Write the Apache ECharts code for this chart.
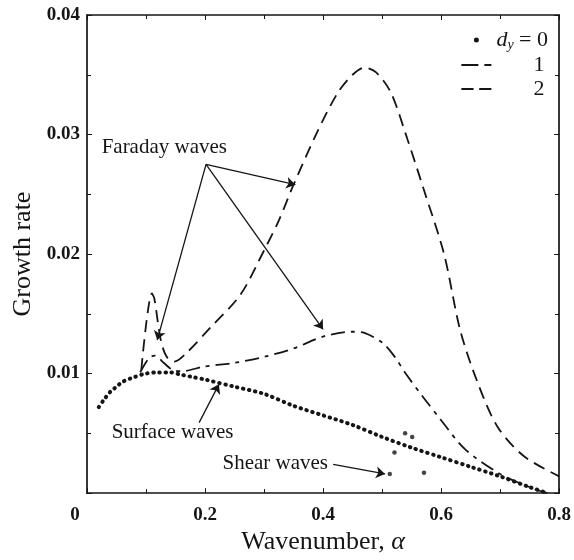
<!DOCTYPE html>
<html>
<head>
<meta charset="utf-8">
<script src="https://cdn.jsdelivr.net/npm/echarts@6/dist/echarts.min.js"></script>
<style>
html, body { margin: 0; padding: 0; background: #fff; }
#chart { width: 574px; height: 560px; }
</style>
</head>
<body>
<div id="chart"></div>
<script>
// d_y = 0, surface waves (dotted)
var alpha0 = [0.02, 0.03, 0.04, 0.05, 0.06, 0.08, 0.10, 0.12, 0.14, 0.16, 0.18, 0.20, 0.25, 0.30, 0.35, 0.40, 0.45, 0.50, 0.55, 0.60, 0.65, 0.70, 0.75, 0.78];
var rate0 = [0.0072, 0.0079, 0.0085, 0.0089, 0.0093, 0.0097, 0.0100, 0.0101, 0.0101, 0.0099, 0.0097, 0.0095, 0.0089, 0.0083, 0.0073, 0.0065, 0.0057, 0.0047, 0.0038, 0.0030, 0.0022, 0.0014, 0.0005, 0.0000];
// d_y = 0, shear waves (isolated points)
var alphaShear = [0.513, 0.521, 0.539, 0.551, 0.571];
var rateShear = [0.0016, 0.0034, 0.0050, 0.0047, 0.0017];
// d_y = 1 (dash-dot)
var alpha1 = [0.09, 0.105, 0.115, 0.13, 0.145, 0.16, 0.20, 0.25, 0.30, 0.35, 0.40, 0.45, 0.47, 0.50, 0.52, 0.54, 0.57, 0.60, 0.64, 0.70, 0.76, 0.78];
var rate1 = [0.0101, 0.0113, 0.0115, 0.0109, 0.0103, 0.0102, 0.0106, 0.0109, 0.0114, 0.0121, 0.0131, 0.0135, 0.0134, 0.0126, 0.0115, 0.0100, 0.0080, 0.0061, 0.0037, 0.0016, 0.0003, 0.0000];
// d_y = 2 (dashed)
var alpha2 = [0.092, 0.110, 0.114, 0.125, 0.135, 0.148, 0.168, 0.21, 0.26, 0.30, 0.325, 0.35, 0.39, 0.425, 0.45, 0.47, 0.49, 0.515, 0.543, 0.57, 0.605, 0.632, 0.66, 0.695, 0.74, 0.80];
var rate2 = [0.0103, 0.0167, 0.0163, 0.0128, 0.0114, 0.0110, 0.0117, 0.0139, 0.0166, 0.0203, 0.0228, 0.0258, 0.0302, 0.0335, 0.0350, 0.0356, 0.0352, 0.0335, 0.0296, 0.0255, 0.0200, 0.0137, 0.0095, 0.0056, 0.0031, 0.0014];

var yTicks = [0.01, 0.02, 0.03, 0.04];

function pairs(xs, ys) {
  var out = [];
  for (var i = 0; i < xs.length; i++) out.push([xs[i], ys[i]]);
  return out;
}

var ink = '#151515';
var serif = 'Liberation Serif';

var chart = echarts.init(document.getElementById('chart'));

// shared look of the four frame sides: ticks point inward
function frame(extra) {
  return Object.assign({
    axisLine: { show: true, onZero: false, lineStyle: { color: ink, width: 1.7 } },
    axisTick: { show: true, inside: true, length: 5, lineStyle: { color: ink, width: 1 } },
    minorTick: { show: true, splitNumber: 2, length: 4, lineStyle: { color: ink, width: 1 } },
    splitLine: { show: false },
    minorSplitLine: { show: false }
  }, extra);
}

chart.setOption({
  animation: false,
  backgroundColor: '#ffffff',
  grid: { left: 87, right: 11, top: 15, bottom: 62 },
  legend: {
    orient: 'vertical',
    right: 21,
    top: 24,
    itemWidth: 30,
    itemHeight: 5,
    itemGap: 2,
    data: [
      { name: 'dy0', icon: 'circle' },
      { name: 'dy1', icon: 'path://M0,0h17v2h-17zM23,0h7v2h-7z' },
      { name: 'dy2', icon: 'path://M0,0h13v2h-13zM19,0h13v2h-13z' }
    ],
    formatter: function (name) {
      if (name === 'dy0') return '{i|d}{s|y}{t| = 0}';
      return '{n|' + name.slice(2) + '}';
    },
    textStyle: {
      color: ink,
      fontFamily: serif,
      fontSize: 22,
      lineHeight: 22,
      rich: {
        i: { fontFamily: serif, fontSize: 22, fontStyle: 'italic', color: ink },
        s: { fontFamily: serif, fontSize: 14, fontStyle: 'italic', color: ink, padding: [10, 0, 0, 0] },
        t: { fontFamily: serif, fontSize: 22, color: ink },
        n: { fontFamily: serif, fontSize: 22, color: ink, width: 48, align: 'right' }
      }
    }
  },
  xAxis: [
    frame({
      type: 'value', min: 0, max: 0.8, interval: 0.2,
      name: 'Wavenumber, {a|α}',
      nameLocation: 'middle',
      nameGap: 31,
      nameTextStyle: {
        color: ink, fontFamily: serif, fontSize: 26,
        rich: { a: { fontFamily: serif, fontSize: 26, fontStyle: 'italic', color: ink } }
      },
      axisLabel: {
        color: ink, fontFamily: serif, fontSize: 19, fontWeight: 'bold', margin: 12,
        formatter: function (v) { return v === 0 ? '{z|0}' : String(+v.toFixed(1)); },
        rich: { z: { fontFamily: serif, fontSize: 19, fontWeight: 'bold', color: ink, padding: [0, 24, 0, 0] } }
      }
    }),
    frame({
      type: 'value', min: 0, max: 0.8, interval: 0.2, position: 'top',
      axisLabel: { show: false }
    })
  ],
  yAxis: [
    frame({
      type: 'value', min: 0, max: 0.04, interval: 0.01,
      name: 'Growth rate',
      nameLocation: 'middle',
      nameGap: 50,
      nameTextStyle: { color: ink, fontFamily: serif, fontSize: 26 },
      axisLabel: {
        color: ink, fontFamily: serif, fontSize: 19, fontWeight: 'bold', margin: 7,
        formatter: function (v) { return yTicks.indexOf(+v.toFixed(2)) >= 0 ? v.toFixed(2) : ''; }
      }
    }),
    frame({
      type: 'value', min: 0, max: 0.04, interval: 0.01, position: 'right',
      axisLabel: { show: false }
    })
  ],
  series: [
    {
      name: 'dy0',
      type: 'line',
      data: pairs(alpha0, rate0),
      smooth: 0.3,
      symbol: 'none',
      color: ink,
      itemStyle: { color: ink },
      lineStyle: { color: ink, width: 4, type: [0.5, 5.6], cap: 'round' }
    },
    {
      name: 'dy0',
      type: 'scatter',
      data: pairs(alphaShear, rateShear),
      symbolSize: 4.5,
      itemStyle: { color: ink }
    },
    {
      name: 'dy1',
      type: 'line',
      data: pairs(alpha1, rate1),
      smooth: 0.3,
      symbol: 'none',
      color: ink,
      lineStyle: { color: ink, width: 1.8, type: [14, 6, 4, 6] }
    },
    {
      name: 'dy2',
      type: 'line',
      data: pairs(alpha2, rate2),
      smooth: 0.3,
      symbol: 'none',
      color: ink,
      lineStyle: { color: ink, width: 1.8, type: [12, 7] },
      markLine: {
        silent: true,
        symbol: ['none', 'arrow'],
        symbolSize: 9,
        label: { show: false },
        lineStyle: { color: ink, width: 1.3, type: 'solid' },
        data: [
          [{ coord: [0.2017, 0.0275] }, { coord: [0.119, 0.0128] }],
          [{ coord: [0.2017, 0.0275] }, { coord: [0.400, 0.0137] }],
          [{ coord: [0.2017, 0.0275] }, { coord: [0.353, 0.0258] }],
          [{ coord: [0.190, 0.0059] }, { coord: [0.2235, 0.0091] }],
          [{ coord: [0.417, 0.0024] }, { coord: [0.505, 0.0016] }]
        ]
      }
    }
  ]
});

// text annotations placed in data coordinates
var notes = [
  { text: 'Faraday waves', at: [0.131, 0.0289] },
  { text: 'Surface waves', at: [0.145, 0.0051] },
  { text: 'Shear waves', at: [0.319, 0.0025] }
];
chart.setOption({
  graphic: notes.map(function (n) {
    var p = chart.convertToPixel({ xAxisIndex: 0, yAxisIndex: 0 }, n.at);
    return {
      type: 'text',
      x: p[0], y: p[1],
      style: {
        text: n.text, fill: ink, font: '21px "Liberation Serif"',
        align: 'center', verticalAlign: 'middle'
      }
    };
  })
});
</script>
</body>
</html>
